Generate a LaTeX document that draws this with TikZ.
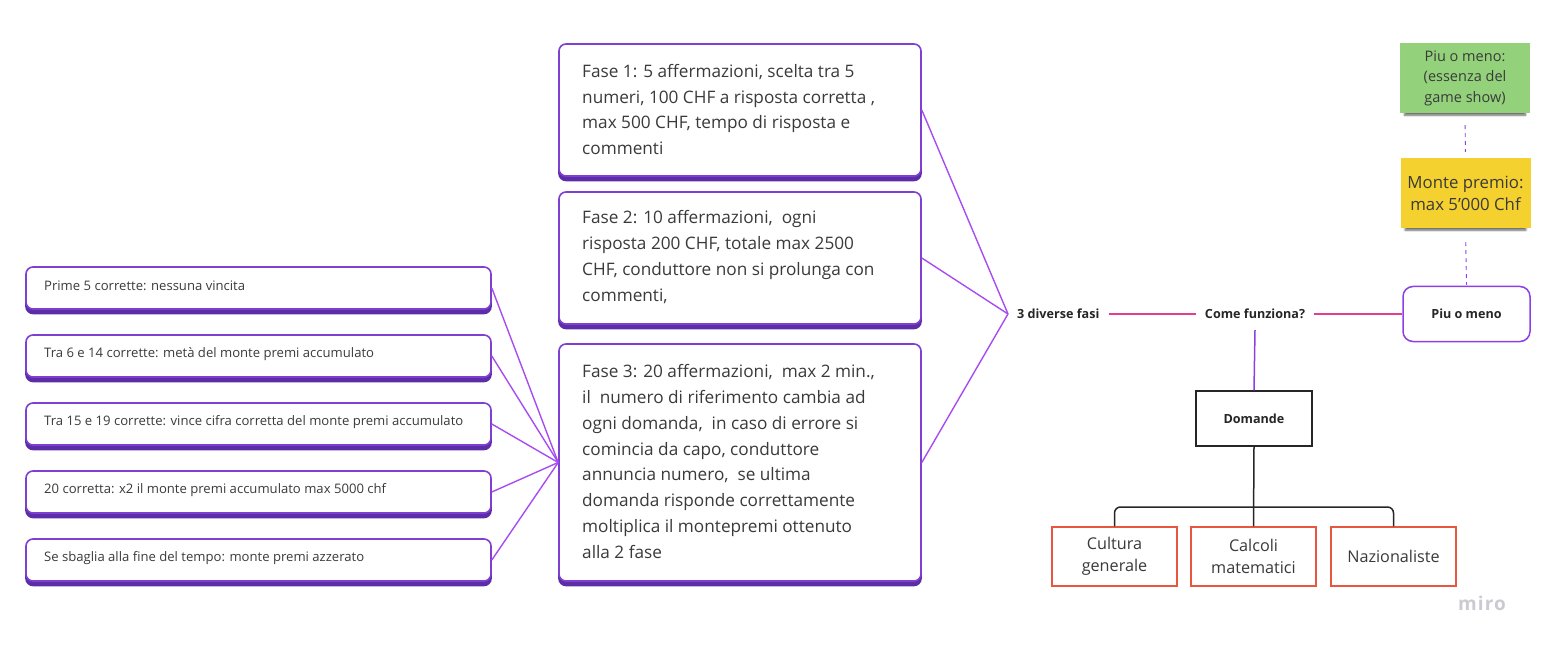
\documentclass[tikz,border=0pt]{standalone}
\usepackage{fontspec}
\setmainfont{Open Sans}
\usetikzlibrary{shadows,shadows.blur}

\definecolor{boxline}{HTML}{7E40D3}
\definecolor{boxband}{HTML}{5D2DA8}
\definecolor{linkviolet}{HTML}{A84CF2}
\definecolor{linkpink}{HTML}{E33D8C}
\definecolor{stemviolet}{HTML}{8A40E6}
\definecolor{leafred}{HTML}{E8563F}
\definecolor{notegreen}{HTML}{93D27B}
\definecolor{noteyellow}{HTML}{F4D12F}
\definecolor{inktext}{HTML}{3A3A3A}
\definecolor{logogray}{HTML}{CACAD2}

\tikzset{
  cardbox/.style={draw=boxline, line width=1.6pt, fill=white, rounded corners=7pt,
    general shadow={shadow yshift=-4.5pt, fill=boxband, draw=boxband, line width=1.6pt},
    inner sep=0pt},
  fasebox/.style={cardbox, minimum width=362pt},
  rulebox/.style={cardbox, minimum width=465pt, minimum height=42pt},
  fasetext/.style={anchor=west, align=left, inner sep=0pt, text=inktext,
    font=\fontsize{17.2}{25.8}\selectfont},
  ruletext/.style={anchor=west, inner sep=0pt, text=inktext,
    font=\fontsize{13.1}{15}\selectfont},
  hubtext/.style={font=\bfseries\fontsize{12.6}{14}\selectfont, text=black!85,
    inner xsep=9pt, minimum height=32pt},
  mainbox/.style={draw=stemviolet, line width=1.5pt, rounded corners=10pt, fill=white,
    minimum width=127pt, minimum height=55pt,
    font=\bfseries\fontsize{12.6}{14}\selectfont, text=black!85},
  qbox/.style={draw=black!85, line width=1.5pt, fill=white,
    minimum width=116pt, minimum height=55pt,
    font=\bfseries\fontsize{12.6}{14}\selectfont, text=black!85},
  leafbox/.style={draw=leafred, line width=1.5pt, fill=white, align=center,
    minimum width=125pt, minimum height=59pt, text=inktext,
    font=\fontsize{16.2}{22}\selectfont},
  note/.style={minimum width=130pt, minimum height=70pt, align=center, text=inktext,
    blur shadow={shadow xshift=0pt, shadow yshift=-5pt, shadow scale=0.93,
      shadow blur steps=6, shadow opacity=60}},
  violetlink/.style={draw=linkviolet, line width=1.4pt},
  pinklink/.style={draw=linkpink, line width=1.8pt},
  notelink/.style={draw=stemviolet, line width=0.9pt, dash pattern=on 4pt off 4pt},
}

\begin{document}
\begin{tikzpicture}[x=1pt, y=-1pt]
\useasboundingbox (0,0) rectangle (1543,647);

% the three phases
\node[fasebox, minimum height=132pt] (f1) at (740,110) {};
\node[fasebox, minimum height=132pt] (f2) at (740,258) {};
\node[fasebox, minimum height=237pt] (f3) at (740,462.5) {};
\node[fasetext] (f1t) at (582,109.5) {Fase 1: 5 affermazioni, scelta tra 5\\numeri, 100 CHF a risposta corretta ,\\max 500 CHF, tempo di risposta e\\commenti};
\node[fasetext] (f2t) at (582,257) {Fase 2: 10 affermazioni,\ \ ogni\\risposta 200 CHF, totale max 2500\\CHF, conduttore non si prolunga con\\commenti,};
\node[fasetext] (f3t) at (582,461.5) {Fase 3: 20 affermazioni,\ \ max 2 min.,\\il\ \ numero di riferimento cambia ad\\ogni domanda,\ \ in caso di errore si\\comincia da capo, conduttore\\annuncia numero,\ \ se ultima\\domanda risponde correttamente\\moltiplica il montepremi ottenuto\\alla 2 fase};

% rules of phase 3
\node[rulebox] (r1) at (258.5,288) {};
\node[rulebox] (r2) at (258.5,356) {};
\node[rulebox] (r3) at (258.5,424) {};
\node[rulebox] (r4) at (258.5,492) {};
\node[rulebox] (r5) at (258.5,560) {};
\node[ruletext] (r1t) at (44,286) {Prime 5 corrette: nessuna vincita};
\node[ruletext] (r2t) at (44,354) {Tra 6 e 14 corrette: metà del monte premi accumulato};
\node[ruletext] (r3t) at (44,422) {Tra 15 e 19 corrette: vince cifra corretta del monte premi accumulato};
\node[ruletext] (r4t) at (44,490) {20 corretta: x2 il monte premi accumulato max 5000 chf};
\node[ruletext] (r5t) at (44,558) {Se sbaglia alla fine del tempo: monte premi azzerato};

\foreach \r in {r1,r2,r3,r4,r5}
  \draw[violetlink] (\r.east) -- (f3.west);

% hub labels
\node[hubtext, anchor=west] (fasi) at (1008,314) {3 diverse fasi};
\node[hubtext] (come) at (1255,314) {Come funziona?};
\node[mainbox] (piu) at (1466.5,314) {Piu o meno};

\draw[violetlink] (f1.east) -- (fasi.west);
\draw[violetlink] (f2.east) -- (fasi.west);
\draw[violetlink] (f3.east) -- (fasi.west);
\draw[pinklink] (fasi.east) -- (come.west);
\draw[pinklink] (come.east) -- (piu.west);

% question types
\node[qbox] (dom) at (1254,418.5) {Domande};
\draw[draw=stemviolet, line width=1.5pt] (come.south) -- (dom.north);

\node[leafbox] (c1) at (1114.5,556.5) {Cultura\\generale};
\node[leafbox] (c2) at (1253.5,556.5) {Calcoli\\matematici};
\node[leafbox] (c3) at (1393.5,556.5) {Nazionaliste};
\coordinate (split) at (1254,507);
\draw[line width=1.5pt, black!85] (dom.south) -- (c2.north);
\draw[line width=1.5pt, black!85, rounded corners=6pt] (c1.north) |- (split) -| (c3.north);

% sticky notes
\node[note, fill=notegreen, font=\fontsize{14.5}{20.5}\selectfont] (essenza) at (1465,78) {Piu o meno:\\(essenza del\\game show)};
\node[note, fill=noteyellow, font=\fontsize{16.8}{22}\selectfont] (monte) at (1465.5,193) {Monte premio:\\max 5'000 Chf};
\draw[notelink, shorten <=12pt, shorten >=6pt] (essenza.south) -- (monte.north);
\draw[notelink, shorten <=14pt, shorten >=1pt] (monte.south) -- (piu.north);

% logo
\node[text=logogray, font=\bfseries\fontsize{19}{22}\selectfont\addfontfeature{LetterSpace=6}] (logo) at (1482,603) {miro};
\end{tikzpicture}
\end{document}
